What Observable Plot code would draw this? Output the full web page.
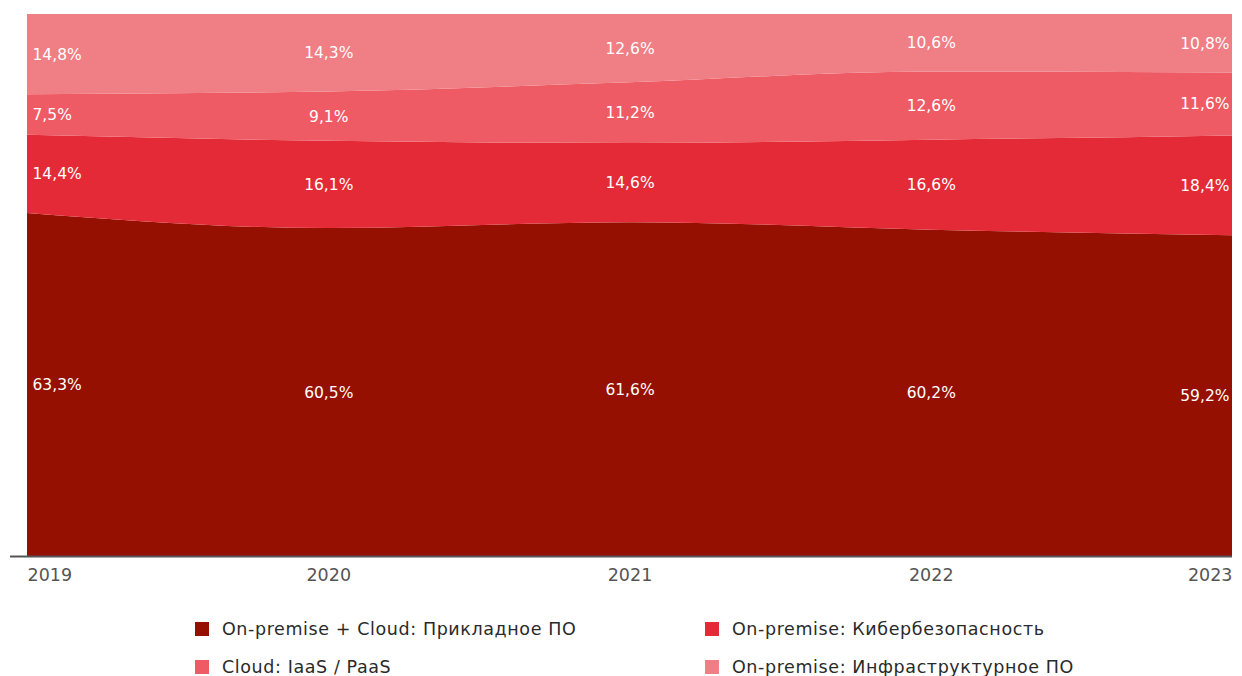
<!DOCTYPE html>
<html>
<head>
<meta charset="utf-8">
<script src="https://cdn.jsdelivr.net/npm/d3@7"></script>
<script src="https://cdn.jsdelivr.net/npm/@observablehq/plot@0.6"></script>
<style>
  html, body { margin: 0; padding: 0; background: #fff; }
  #chart { width: 1242px; }
  .legend { display: grid; grid-template-columns: 510px 420px; margin-left: 195px; row-gap: 16px; margin-top: 23px; }
  .item { display: flex; align-items: center; font-family: "DejaVu Sans", sans-serif; font-size: 17.5px; letter-spacing: 0.6px; color: #2a2a2a; height: 22px; white-space: nowrap; }
  .sw { width: 14px; height: 14px; margin-right: 13px; display: inline-block; }
</style>
</head>
<body>
<div id="chart"></div>
<script>
const years = [2019, 2020, 2021, 2022, 2023];
const seriesNames = [
  "On-premise + Cloud: Прикладное ПО",
  "On-premise: Кибербезопасность",
  "Cloud: IaaS / PaaS",
  "On-premise: Инфраструктурное ПО"
];
const applied = [63.3, 60.5, 61.6, 60.2, 59.2];
const cyber = [14.4, 16.1, 14.6, 16.6, 18.4];
const iaas = [7.5, 9.1, 11.2, 12.6, 11.6];
const infra = [14.8, 14.3, 12.6, 10.6, 10.8];
const colors = ["#951000", "#e52a37", "#ee5b64", "#f07e85"];

const seriesValues = [applied, cyber, iaas, infra];
const rows = [];
seriesNames.forEach((s, i) => years.forEach((y, j) => rows.push({year: y, series: s, value: seriesValues[i][j]})));

const fmt = d => d.value.toFixed(1).replace(".", ",") + "%";
const textBase = {fill: "white", fontSize: 15.5, fontWeight: 500, fontFamily: "DejaVu Sans, sans-serif", letterSpacing: 1};
const lab = (filter, anchor, dx) => Plot.text(rows, Plot.stackY({
  filter, x: "year", y: "value", z: "series", order: seriesNames, text: fmt,
  textAnchor: anchor, dx, ...textBase
}));

const axisStyle = {tickSize: 0, tickPadding: 12, fontSize: 17.5, fontFamily: "DejaVu Sans, sans-serif", color: "#555", tickFormat: d => String(d), label: null, letterSpacing: 1.3};

const chart = Plot.plot({
  width: 1242,
  height: 595,
  marginLeft: 27,
  marginRight: 10,
  marginTop: 14,
  marginBottom: 39,
  x: {domain: [2019, 2023], axis: null},
  y: {domain: [0, 100], axis: null},
  color: {domain: seriesNames, range: colors},
  marks: [
    Plot.areaY(rows, Plot.stackY({x: "year", y: "value", z: "series", order: seriesNames, fill: "series", curve: "monotone-x"})),
    lab(d => d.year === 2019, "start", 5),
    lab(d => d.year > 2019 && d.year < 2023, "middle", 0),
    lab(d => d.year === 2023, "end", -3),
    Plot.ruleY([0], {stroke: "#555", strokeWidth: 2, insetLeft: -17}),
    Plot.axisX([2019], {...axisStyle, textAnchor: "start"}),
    Plot.axisX([2020, 2021, 2022], {...axisStyle, textAnchor: "middle"}),
    Plot.axisX([2023], {...axisStyle, textAnchor: "end"})
  ]
});
document.getElementById("chart").appendChild(chart);

const legend = document.createElement("div");
legend.className = "legend";
const legendOrder = [0, 1, 2, 3];
legendOrder.forEach(i => {
  const it = document.createElement("div");
  it.className = "item";
  const sw = document.createElement("span");
  sw.className = "sw";
  sw.style.background = colors[i];
  it.appendChild(sw);
  it.appendChild(document.createTextNode(seriesNames[i]));
  legend.appendChild(it);
});
document.getElementById("chart").appendChild(legend);
</script>
</body>
</html>
